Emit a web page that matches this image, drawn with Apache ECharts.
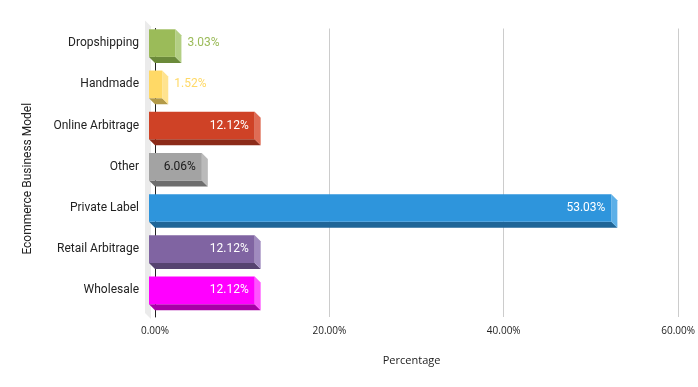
<!DOCTYPE html>
<html>
<head>
<meta charset="utf-8">
<script src="https://cdn.jsdelivr.net/npm/echarts@6/dist/echarts.min.js"></script>
<style>html,body{margin:0;padding:0;background:#fff;}#c{width:698px;height:387px;}</style>
</head>
<body>
<div id="c"></div>
<script>
// ---- data ----
const categories = ['Dropshipping', 'Handmade', 'Online Arbitrage', 'Other', 'Private Label', 'Retail Arbitrage', 'Wholesale'];
const values = [3.03, 1.52, 12.12, 6.06, 53.03, 12.12, 12.12];
const xTicks = [0, 20, 40, 60];

// ---- styles ----
const frontColors = ['#9bbb59', '#ffd966', '#cf4226', '#a3a3a3', '#2e95dc', '#8064a2', '#ff00ff'];
const sideColors  = ['#b3cf84', '#ffe38f', '#df6c55', '#bababa', '#5db0e8', '#a08bbf', '#ff55ff'];
const bottomColors= ['#6b8a3a', '#b39a48', '#8c2b19', '#6e6e6e', '#1f6597', '#564370', '#a800a8'];
const labelColors = ['#9bbb59', '#ffd966', '#ffffff', '#1a1a1a', '#ffffff', '#ffffff', '#ffffff'];

const seriesData = values.map((v, i) => [v, i]);
const D = 6;

function renderBar(params, api) {
  const v = api.value(0), ci = api.value(1);
  const p0 = api.coord([0, ci]);
  const p1 = api.coord([v, ci]);
  const bh = api.size([0, 1])[1] * 0.67;
  const bx0 = p0[0], bx1 = p1[0], by0 = p0[1] - bh / 2, by1 = p0[1] + bh / 2;
  const fx0 = bx0 - D, fx1 = bx1 - D, fy0 = by0 - D, fy1 = by1 - D;
  const children = [
    { type: 'polygon', shape: { points: [[fx0, fy1], [fx1, fy1], [bx1, by1], [bx0, by1]] }, style: { fill: bottomColors[ci] } },
    { type: 'polygon', shape: { points: [[fx1, fy0], [bx1, by0], [bx1, by1], [fx1, fy1]] }, style: { fill: sideColors[ci] } },
    { type: 'rect', shape: { x: fx0, y: fy0, width: fx1 - fx0, height: fy1 - fy0 }, style: { fill: frontColors[ci] } }
  ];
  const txt = v.toFixed(2) + '%';
  const inside = v >= 5;
  children.push({
    type: 'text',
    style: {
      text: txt,
      x: inside ? fx1 - 6 : bx1 + 6,
      y: (fy0 + fy1) / 2,
      align: inside ? 'right' : 'left',
      verticalAlign: 'middle',
      fill: labelColors[ci],
      font: '12px Roboto'
    }
  });
  return { type: 'group', children };
}

function renderWall(params, api) {
  const cs = params.coordSys;
  const b = cs.y + cs.height;
  return {
    type: 'polygon',
    shape: { points: [[cs.x - 10, cs.y - 8], [cs.x - 4, cs.y - 2], [cs.x - 4, b + 2], [cs.x - 10, b - 4]] },
    style: { fill: '#ebebeb' }
  };
}

const chart = echarts.init(document.getElementById('c'), null, { renderer: 'canvas' });
chart.setOption({
  animation: false,
  backgroundColor: '#ffffff',
  grid: { left: 155, right: 19, top: 28.5, bottom: 70 },
  xAxis: {
    type: 'value', min: xTicks[0], max: xTicks[xTicks.length - 1], interval: 20,
    axisLine: { show: false }, axisTick: { show: false },
    splitLine: { show: true, lineStyle: { color: '#cccccc', width: 1 } },
    axisLabel: { formatter: v => v.toFixed(2) + '%', color: '#222', fontFamily: 'Open Sans', fontSize: 10, margin: 9 },
    name: 'Percentage', nameLocation: 'middle', nameGap: 38,
    nameTextStyle: { fontFamily: 'Open Sans', fontSize: 11, color: '#222', padding: [0, 10, 0, 0] }
  },
  yAxis: {
    type: 'category', data: categories, inverse: true,
    axisLine: { show: true, lineStyle: { color: '#222', width: 1 } },
    axisTick: { show: false },
    axisLabel: {
      color: '#222', fontFamily: 'Roboto', fontSize: 12, margin: 16,
      formatter: v => '{a|' + v + '}\n{b| }',
      rich: {
        a: { color: '#222', fontFamily: 'Roboto', fontSize: 12, lineHeight: 14 },
        b: { fontSize: 6, lineHeight: 12 }
      }
    },
    name: 'Ecommerce Business Model', nameLocation: 'middle', nameGap: 121,
    nameTextStyle: { fontFamily: 'Roboto', fontSize: 12, color: '#222', padding: [0, 12, 0, 0] }
  },
  series: [
    { type: 'custom', name: 'wall', z: 1, data: [[0, 0]], renderItem: renderWall, silent: true },
    { type: 'custom', name: 'Percentage', z: 3, data: seriesData, encode: { x: 0, y: 1 }, renderItem: renderBar }
  ]
});
</script>
</body>
</html>
